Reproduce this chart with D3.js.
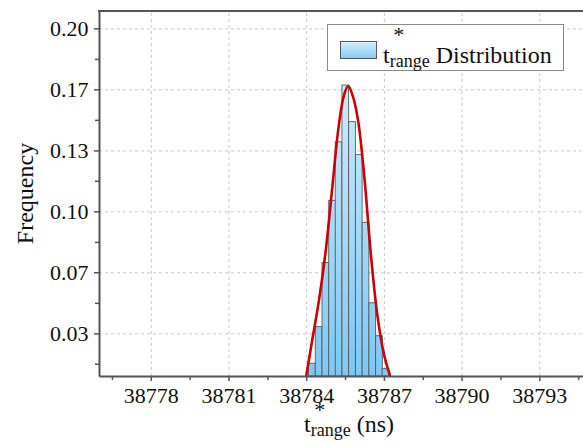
<!DOCTYPE html>
<html>
<head>
<meta charset="utf-8">
<script src="https://cdn.jsdelivr.net/npm/d3@7"></script>
<style>
body { margin: 0; background: #fff; }
svg { display: block; font-family: "Liberation Serif", "Times New Roman", Times, serif; }
</style>
</head>
<body>
<script>
//histogram bins (ns) and relative frequency per bin
var binStarts = [38784.09, 38784.35, 38784.61, 38784.87, 38785.12, 38785.38,
                 38785.64, 38785.90, 38786.16, 38786.42, 38786.68, 38786.93];
var binWidth = 0.259;
var binFreq = [0.017, 0.037, 0.072, 0.106, 0.138, 0.169,
               0.149, 0.131, 0.094, 0.050, 0.032, 0.014];

//fitted curve, points
var fitX = [38784.00, 38784.25, 38784.50, 38784.75, 38785.00, 38785.25, 38785.45, 38785.62,
            38785.80, 38786.00, 38786.25, 38786.50, 38786.75, 38787.00, 38787.24];
var fitY = [0.010, 0.031, 0.052, 0.078, 0.112, 0.146, 0.163, 0.1685,
            0.163, 0.150, 0.118, 0.076, 0.043, 0.022, 0.010];

//axis ticks
var xTicks = [38778, 38781, 38784, 38787, 38790, 38793];
var xMinor = [38776.5, 38779.5, 38782.5, 38785.5, 38788.5, 38791.5, 38794.5];
var yTicks = [0.0333, 0.0667, 0.1, 0.1333, 0.1667, 0.2];
var yMinor = [0.0167, 0.05, 0.0833, 0.1167, 0.15, 0.1833];

var serif = "'Liberation Serif', 'Times New Roman', Times, serif";

function drawChart(){
    var width = 583,
        height = 443;
    var left = 99, top = 11, bottom = 376, right = 617;

    var svg = d3.select("body")
        .append("svg")
        .attr("width", width)
        .attr("height", height);

    var x = d3.scaleLinear()
        .domain([38776, 38796])
        .range([left, right]);

    var y = d3.scaleLinear()
        .domain([0.01, 0.2095])
        .range([bottom, top]);

    var defs = svg.append("defs");

    //clip to plot area
    defs.append("clipPath")
        .attr("id", "plotClip")
        .append("rect")
        .attr("x", left)
        .attr("y", top)
        .attr("width", right - left)
        .attr("height", bottom - top);

    //bar gradient, spread over the plot height
    var barGrad = defs.append("linearGradient")
        .attr("id", "barGrad")
        .attr("gradientUnits", "userSpaceOnUse")
        .attr("x1", 0).attr("x2", 0)
        .attr("y1", 70).attr("y2", bottom);
    barGrad.append("stop").attr("offset", 0).attr("stop-color", "#d3edfc");
    barGrad.append("stop").attr("offset", 1).attr("stop-color", "#7cc8f6");

    var legGrad = defs.append("linearGradient")
        .attr("id", "legGrad")
        .attr("x1", 0).attr("x2", 0)
        .attr("y1", 0).attr("y2", 1);
    legGrad.append("stop").attr("offset", 0).attr("stop-color", "#d8f0fd");
    legGrad.append("stop").attr("offset", 1).attr("stop-color", "#82ccf4");

    //grid lines
    svg.append("g")
        .attr("class", "grid")
        .attr("transform", "translate(0," + bottom + ")")
        .call(d3.axisBottom(x).tickValues(xTicks).tickSize(-(bottom - top)).tickFormat(""))
        .call(function(g){ g.select(".domain").remove(); });

    svg.append("g")
        .attr("class", "grid")
        .attr("transform", "translate(" + left + ",0)")
        .call(d3.axisLeft(y).tickValues(yTicks).tickSize(-(right - left)).tickFormat(""))
        .call(function(g){ g.select(".domain").remove(); });

    svg.selectAll(".grid line")
        .attr("stroke", "#c8c8c8")
        .attr("stroke-width", 1)
        .attr("stroke-dasharray", "3,3");

    var plot = svg.append("g")
        .attr("clip-path", "url(#plotClip)");

    //histogram bars
    plot.selectAll(".bar")
        .data(binStarts)
        .enter()
        .append("rect")
        .attr("class", "bar")
        .attr("x", function(d){ return x(d); })
        .attr("width", function(d){ return x(d + binWidth) - x(d); })
        .attr("y", function(d, i){ return y(binFreq[i]); })
        .attr("height", function(d, i){ return bottom - y(binFreq[i]); })
        .attr("fill", "url(#barGrad)")
        .attr("stroke", "#5a5a5a")
        .attr("stroke-width", 0.9);

    //fit curve
    var line = d3.line()
        .x(function(d){ return x(d[0]); })
        .y(function(d){ return y(d[1]); })
        .curve(d3.curveCatmullRom);

    plot.append("path")
        .datum(d3.zip(fitX, fitY))
        .attr("d", line)
        .attr("fill", "none")
        .attr("stroke", "#cc0000")
        .attr("stroke-width", 2.6);

    //axes
    svg.append("g")
        .attr("class", "axis")
        .attr("transform", "translate(0," + bottom + ")")
        .call(d3.axisBottom(x).tickValues(xTicks).tickSize(5).tickSizeOuter(0).tickPadding(6)
            .tickFormat(d3.format("d")));

    svg.append("g")
        .attr("class", "axis minor")
        .attr("transform", "translate(0," + bottom + ")")
        .call(d3.axisBottom(x).tickValues(xMinor).tickSize(4).tickFormat(""))
        .call(function(g){ g.select(".domain").remove(); });

    svg.append("g")
        .attr("class", "axis")
        .attr("transform", "translate(" + left + ",0)")
        .call(d3.axisLeft(y).tickValues(yTicks).tickSize(5).tickSizeOuter(0).tickPadding(5.5)
            .tickFormat(d3.format(".2f")));

    svg.append("g")
        .attr("class", "axis minor")
        .attr("transform", "translate(" + left + ",0)")
        .call(d3.axisLeft(y).tickValues(yMinor).tickSize(4).tickFormat(""))
        .call(function(g){ g.select(".domain").remove(); });

    svg.selectAll(".axis")
        .attr("font-family", serif);
    svg.selectAll(".axis .domain")
        .attr("stroke", "#555")
        .attr("stroke-width", 2);
    svg.selectAll(".axis .tick line")
        .attr("stroke", "#555")
        .attr("stroke-width", 1.5);
    svg.selectAll(".axis text")
        .attr("fill", "#111")
        .attr("font-size", 22);

    //top frame
    svg.append("line")
        .attr("x1", left - 1).attr("x2", right)
        .attr("y1", top).attr("y2", top)
        .attr("stroke", "#555")
        .attr("stroke-width", 2);

    //y title
    svg.append("text")
        .attr("transform", "translate(33," + ((top + bottom) / 2) + ") rotate(-90)")
        .attr("text-anchor", "middle")
        .attr("font-size", 24)
        .attr("fill", "#111")
        .text("Frequency");

    //t*range label helper
    function tLabel(g, x0, base, supRise, tail){
        var t = g.append("text")
            .attr("x", x0)
            .attr("y", base)
            .attr("font-size", 24)
            .attr("fill", "#111");
        var tt = t.append("tspan").text("t");
        var tw = tt.node().getComputedTextLength();
        t.append("tspan")
            .attr("font-size", 18)
            .attr("dy", 4)
            .text("range");
        t.append("tspan")
            .attr("dy", -4)
            .text(tail);
        g.append("text")
            .attr("x", x0 + tw + 9)
            .attr("y", base - supRise)
            .attr("text-anchor", "middle")
            .attr("font-size", 22)
            .attr("fill", "#111")
            .text("*");
        return t;
    }

    //x title, centred
    var xt = svg.append("g");
    var xtText = tLabel(xt, 0, 432, 15, " (ns)");
    var xtw = xtText.node().getBBox().width;
    xt.attr("transform", "translate(" + (349 - xtw / 2) + ",0)");

    //legend
    var legend = svg.append("g").attr("class", "legend");
    legend.append("rect")
        .attr("x", 327.5).attr("y", 24.5)
        .attr("width", 236).attr("height", 46)
        .attr("fill", "#fff")
        .attr("stroke", "#8a8a8a")
        .attr("stroke-width", 1);
    legend.append("rect")
        .attr("x", 340.5).attr("y", 41.5)
        .attr("width", 36).attr("height", 17)
        .attr("fill", "url(#legGrad)")
        .attr("stroke", "#5a5a5a")
        .attr("stroke-width", 1);
    tLabel(legend, 383, 63, 21, " Distribution");
}

window.onload = drawChart();
</script>
</body>
</html>
